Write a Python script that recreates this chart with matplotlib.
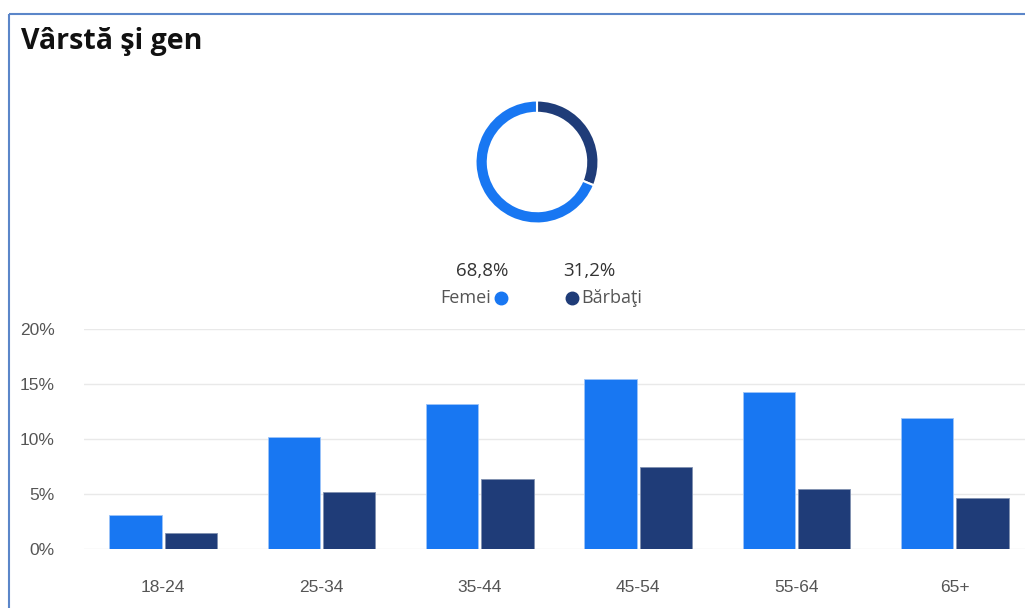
import matplotlib
matplotlib.use("Agg")
import matplotlib.pyplot as plt
from matplotlib.patches import Rectangle
import numpy as np

# data
age_groups = ["18-24", "25-34", "35-44", "45-54", "55-64", "65+"]
femei = [3.15, 10.2, 13.2, 15.5, 14.3, 11.9]
barbati = [1.5, 5.25, 6.4, 7.45, 5.5, 4.7]
gender_labels = ["Femei", "Bărbaţi"]
gender_share = [68.8, 31.2]
y_ticks = [0, 5, 10, 15, 20]

c_femei = "#1877F2"
c_barbati = "#1F3C78"

W, H = 1025, 608
fig = plt.figure(figsize=(W / 100, H / 100), dpi=100)
fig.patch.set_facecolor("white")


def box(x0, y0, w, h):
    # pixel box (top-left origin) -> figure fraction
    return [x0 / W, (H - y0 - h) / H, w / W, h / H]


# bar chart
ax = fig.add_axes(box(84, 329.3, 950, 220))
x = np.arange(len(age_groups))
bw = 0.33
ax.bar(x - bw / 2 - 0.01, femei, bw, color=c_femei, edgecolor="#9cc4f8", linewidth=0.6, zorder=3)
ax.bar(x + bw / 2 + 0.01, barbati, bw, color=c_barbati, edgecolor="#8090b0", linewidth=0.6, zorder=3)
ax.set_xlim(-0.5, len(age_groups) - 0.5)
ax.set_ylim(0, 20)
ax.set_yticks(y_ticks)
ax.set_yticklabels([f"{t}%" for t in y_ticks])
ax.set_xticks(x)
ax.set_xticklabels(age_groups)
ax.grid(axis="y", color="#e9e9e9", linewidth=1, zorder=0)
for s in ax.spines.values():
    s.set_visible(False)
ax.tick_params(axis="both", length=0, labelsize=12.5, labelcolor="#555555")
ax.tick_params(axis="y", pad=21)
ax.tick_params(axis="x", pad=22)
for lab in ax.get_xticklabels() + ax.get_yticklabels():
    lab.set_fontfamily("Liberation Sans")

# donut
r = 61.5
axd = fig.add_axes(box(537 - r, 162 - r, 2 * r, 2 * r))
axd.pie(gender_share[::-1], colors=[c_barbati, c_femei], startangle=90, counterclock=False,
        radius=1, wedgeprops=dict(width=0.2, edgecolor="white", linewidth=1.5))
axd.set_xlim(-1, 1)
axd.set_ylim(-1, 1)
axd.set_aspect("equal")
axd.axis("off")

# overlay in pixel coordinates for title, legend and frame
ov = fig.add_axes([0, 0, 1, 1])
ov.set_xlim(0, W)
ov.set_ylim(H, 0)
ov.axis("off")
ov.patch.set_alpha(0)

ov.add_patch(Rectangle((8.5, 13.5), 1100, 700, fill=False, edgecolor="#5b86c9", linewidth=1.5))
ov.text(21, 42, "Vârstă şi gen", fontsize=20.5, fontweight="bold", fontfamily="Open Sans",
        color="#111111", ha="left", va="center")

ov.text(482, 271, f"{gender_share[0]:.1f}%".replace(".", ","), fontsize=13.5, fontfamily="Open Sans",
        color="#333333", ha="center", va="center")
ov.text(589, 271, f"{gender_share[1]:.1f}%".replace(".", ","), fontsize=13.5, fontfamily="Open Sans",
        color="#333333", ha="center", va="center")
ov.text(491, 298, gender_labels[0], fontsize=13, fontfamily="Open Sans", color="#555555",
        ha="right", va="center")
ov.text(581, 298, gender_labels[1], fontsize=13, fontfamily="Open Sans", color="#555555",
        ha="left", va="center")
ov.plot([501], [298], "o", color=c_femei, markersize=9)
ov.plot([572], [298], "o", color=c_barbati, markersize=9)

fig.savefig("out.png", dpi=100)
